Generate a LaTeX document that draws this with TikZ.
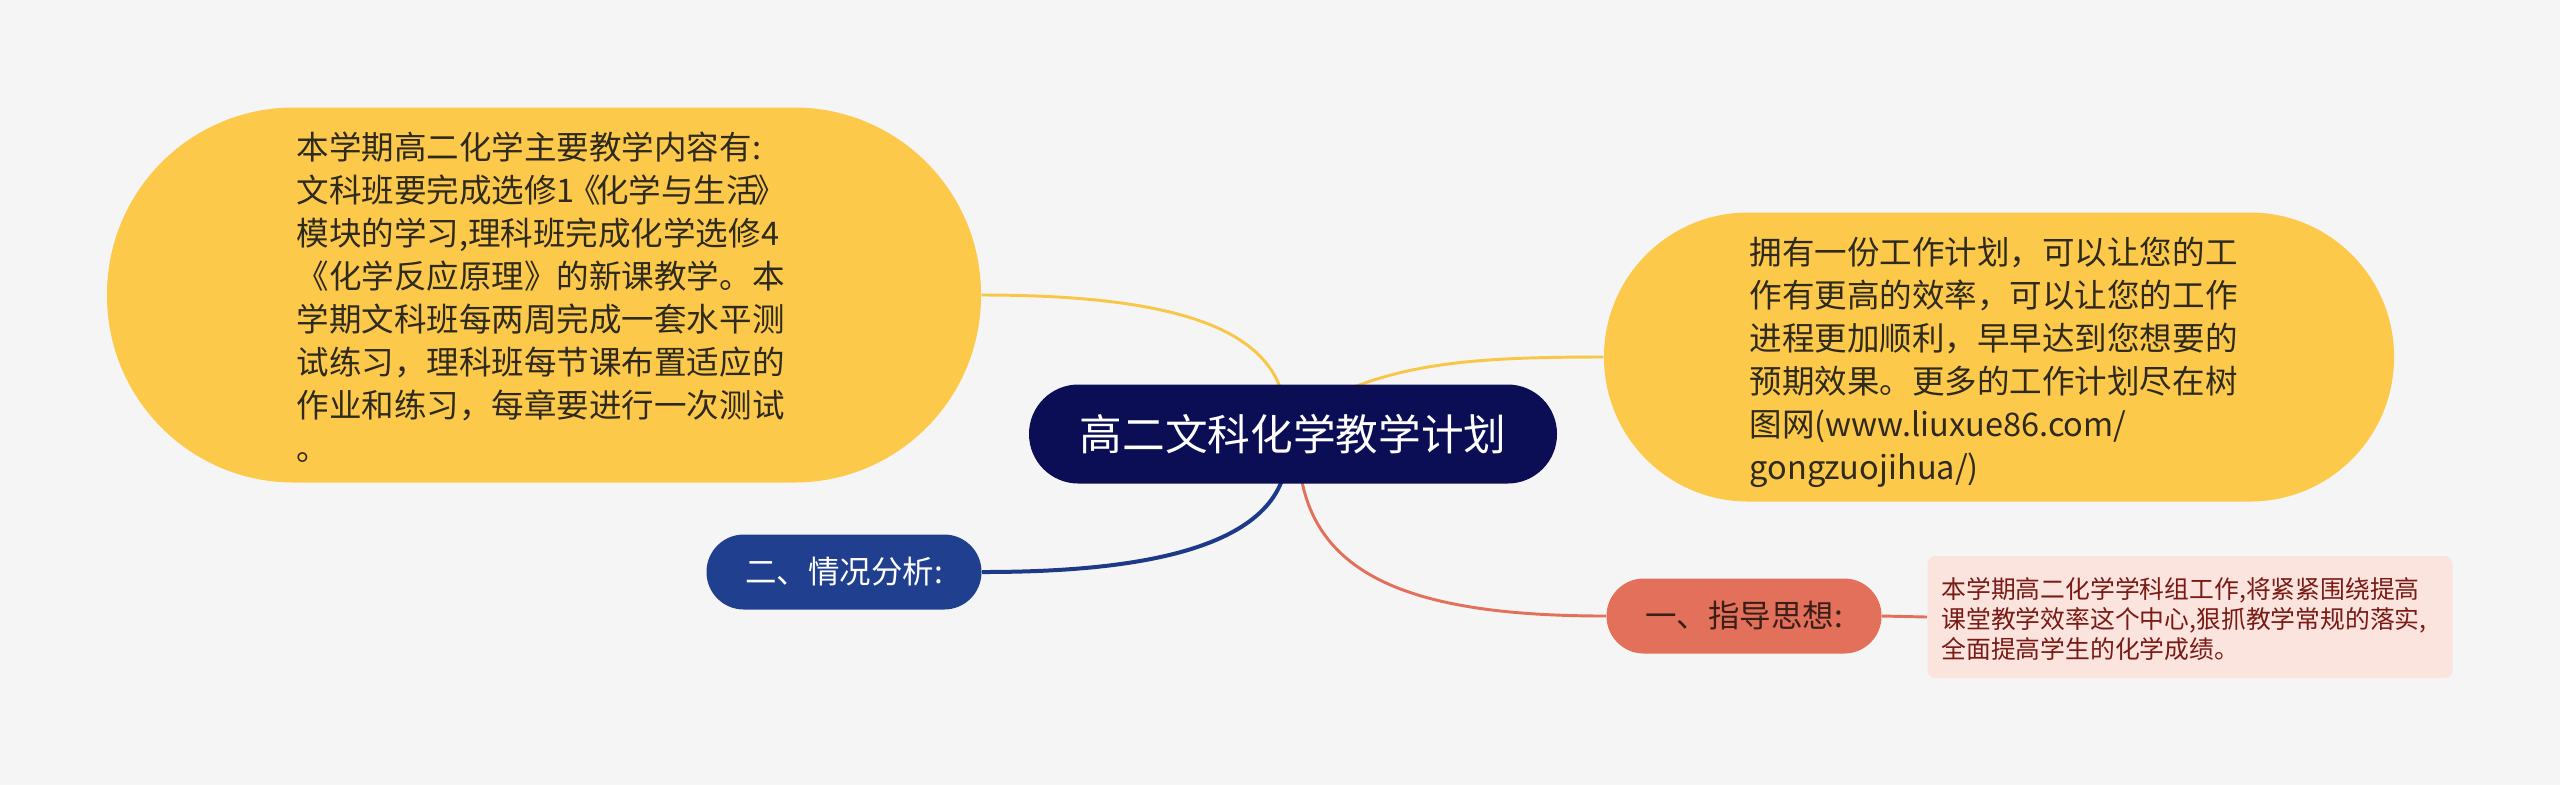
\documentclass[tikz,border=0pt]{standalone}
\usepackage{fontspec}
\setmainfont{Noto Sans CJK SC}
\usetikzlibrary{backgrounds}
\definecolor{bgc}{HTML}{F5F5F5}
\definecolor{navy}{HTML}{0B0E55}
\definecolor{ylw}{HTML}{FDC94A}
\definecolor{ylwline}{HTML}{F8C747}
\definecolor{bluenode}{HTML}{20408F}
\definecolor{blueline}{HTML}{1C3A88}
\definecolor{rednode}{HTML}{E3705A}
\definecolor{pinkbox}{HTML}{FBE3DE}
\definecolor{pinktext}{HTML}{7A1A14}
\definecolor{darktext}{HTML}{2E2A1E}
\definecolor{redtext}{HTML}{3A1E18}
\tikzset{
  central/.style={fill=navy, text=white, rounded corners=18.5pt,
    minimum width=528*0.375pt, minimum height=99*0.375pt, inner sep=0pt,
    font=\fontsize{16pt}{19pt}\selectfont},
  bigbox/.style={fill=ylw, inner sep=0pt},
  bigtext/.style={text=darktext, align=left, inner sep=0pt, anchor=west,
    font=\fontsize{12.2pt}{16.1pt}\selectfont},
  pill/.style={inner sep=0pt, rounded corners=14pt,
    minimum width=275*0.375pt, minimum height=75*0.375pt,
    font=\fontsize{11.8pt}{14pt}\selectfont},
  notebox/.style={fill=pinkbox, rounded corners=3pt,
    inner sep=0pt, minimum width=525*0.375pt, minimum height=122*0.375pt},
  notetext/.style={text=pinktext, align=left, inner sep=0pt, anchor=west,
    font=\fontsize{9.3pt}{11.4pt}\selectfont},
  ylink/.style={draw=ylwline, line width=1.1pt},
  blink/.style={draw=blueline, line width=1.5pt},
  rlink/.style={draw=rednode, line width=1.1pt}
}
\begin{document}
\begin{tikzpicture}[x=0.375pt, y=-0.375pt]
\useasboundingbox (0,0) rectangle (2560,785);

\node[central] (root) at (1293,434) {高二文科化学教学计划};

\node[bigbox, rounded corners=70pt, minimum width=874*0.375pt, minimum height=375*0.375pt]
  (content) at (544,295) {};
\node[bigtext] (contenttext) at (296,297) {本学期高二化学主要教学内容有:\\
文科班要完成选修1\kern-0.2em《\kern-0.15em化学与生活\kern-0.15em》\\
模块的学习,理科班完成化学选修4\\
《化学反应原理》的新课教学。本\\
学期文科班每两周完成一套水平测\\
试练习，理科班每节课布置适应的\\
作业和练习，每章要进行一次测试\\
。};

\node[bigbox, rounded corners=54pt, minimum width=790*0.375pt, minimum height=289*0.375pt]
  (intro) at (1999,357) {};
\node[bigtext] (introtext) at (1749,362) {拥有一份工作计划，可以让您的工\\
作有更高的效率，可以让您的工作\\
进程更加顺利，早早达到您想要的\\
预期效果。更多的工作计划尽在树\\
图网(www.liuxue86.com/\\
gongzuojihua/)};

\node[pill, fill=bluenode, text=white] (analysis) at (844,572) {二、情况分析:};
\node[pill, fill=rednode, text=redtext] (guide) at (1744,616) {一、指导思想:};
\node[notebox] (note) at (2190,617) {};
\node[notetext] (notetext) at (1941,619) {本学期高二化学学科组工作,将紧紧围绕提高\\
课堂教学效率这个中心,狠抓教学常规的落实,\\
全面提高学生的化学成绩。};

\coordinate (r1) at (1285,405);
\coordinate (r2) at (1325,400);
\coordinate (r3) at (1285,470);
\coordinate (r4) at (1300,470);

\begin{scope}[on background layer]
\fill[bgc] (0,0) rectangle (2560,785);
\draw[ylink] (content.east) .. controls (1180,295) and (1272,330) .. (r1);
\draw[ylink] (r2) .. controls (1400,362) and (1480,357) .. (intro.west);
\draw[blink] (r3) .. controls (1265,560) and (1100,572) .. (analysis.east);
\draw[rlink] (r4) .. controls (1315,580) and (1420,616) .. (guide.west);
\end{scope}
\draw[rlink] (guide.east) -- (note.west);
\end{tikzpicture}
\end{document}
